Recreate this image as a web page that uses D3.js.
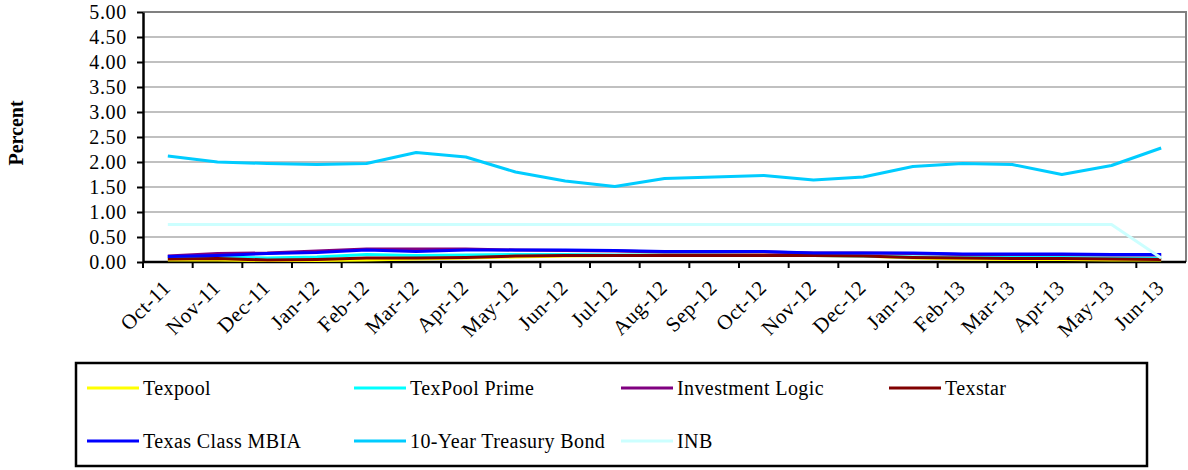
<!DOCTYPE html>
<html>
<head>
<meta charset="utf-8">
<script src="https://cdn.jsdelivr.net/npm/d3@7"></script>
<style>
  body { margin: 0; background: #fff; }
  text { font-family: "Liberation Serif", "Times New Roman", serif; fill: #000; }
</style>
</head>
<body>
<div id="chart"></div>
<script>
// data
var months = ["Oct-11", "Nov-11", "Dec-11", "Jan-12", "Feb-12", "Mar-12", "Apr-12", "May-12", "Jun-12", "Jul-12",
  "Aug-12", "Sep-12", "Oct-12", "Nov-12", "Dec-12", "Jan-13", "Feb-13", "Mar-13", "Apr-13", "May-13", "Jun-13"];
var yTicks = [0, 0.5, 1, 1.5, 2, 2.5, 3, 3.5, 4, 4.5, 5];

var texpool = [0.04, 0.04, 0.03, 0.03, 0.04, 0.06, 0.08, 0.10, 0.12, 0.13, 0.14, 0.14, 0.14, 0.13, 0.12, 0.08, 0.06, 0.05, 0.05, 0.04, 0.04];
var texpoolPrime = [0.10, 0.10, 0.08, 0.10, 0.15, 0.13, 0.14, 0.15, 0.15, 0.14, 0.14, 0.14, 0.13, 0.13, 0.12, 0.10, 0.10, 0.09, 0.09, 0.08, 0.08];
var investmentLogic = [0.12, 0.17, 0.18, 0.22, 0.26, 0.26, 0.26, 0.24, 0.23, 0.22, 0.20, 0.20, 0.20, 0.18, 0.18, 0.17, 0.15, 0.15, 0.15, 0.14, 0.14];
var texstar = [0.06, 0.07, 0.04, 0.05, 0.08, 0.08, 0.09, 0.12, 0.13, 0.13, 0.13, 0.13, 0.13, 0.13, 0.12, 0.09, 0.08, 0.07, 0.07, 0.06, 0.05];
var texasClass = [0.11, 0.13, 0.17, 0.19, 0.24, 0.21, 0.24, 0.24, 0.24, 0.23, 0.21, 0.21, 0.21, 0.18, 0.18, 0.18, 0.16, 0.16, 0.16, 0.15, 0.15];
var treasury = [2.12, 2.00, 1.97, 1.95, 1.97, 2.19, 2.10, 1.80, 1.62, 1.51, 1.67, 1.70, 1.73, 1.64, 1.70, 1.91, 1.97, 1.95, 1.75, 1.93, 2.28];
var inb = [0.75, 0.75, 0.75, 0.75, 0.75, 0.75, 0.75, 0.75, 0.75, 0.75, 0.75, 0.75, 0.75, 0.75, 0.75, 0.75, 0.75, 0.75, 0.75, 0.75, 0.08];

var series = [
  { name: "Texpool", values: texpool, color: "#FFFF00" },
  { name: "TexPool Prime", values: texpoolPrime, color: "#00FFFF" },
  { name: "Investment Logic", values: investmentLogic, color: "#800080" },
  { name: "Texstar", values: texstar, color: "#800000" },
  { name: "Texas Class MBIA", values: texasClass, color: "#0000FF" },
  { name: "10-Year Treasury Bond", values: treasury, color: "#00CCFF" },
  { name: "INB", values: inb, color: "#CCFFFF" }
];

var W = 1188, H = 470;
var margin = { top: 12, right: 2, bottom: 208, left: 143 },
  width = W - margin.left - margin.right,
  height = H - margin.top - margin.bottom;

var root = d3.select("#chart").append("svg")
  .attr("width", W)
  .attr("height", H);

var svg = root.append("g")
  .attr("transform", "translate(" + margin.left + "," + margin.top + ")");

var x = d3.scaleBand().domain(months).range([0, width]);
var y = d3.scaleLinear().domain([0, 5]).range([height, 0]);

// gridlines
svg.append("g")
  .selectAll("line")
  .data(yTicks.slice(1, -1))
  .enter()
  .append("line")
  .attr("x1", 0).attr("x2", width)
  .attr("y1", (d) => y(d)).attr("y2", (d) => y(d))
  .attr("stroke", "#C0C0C0")
  .attr("stroke-width", 2);

// plot border (top and right)
svg.append("path")
  .attr("d", "M0," + y(5) + "H" + width + "V" + height)
  .attr("fill", "none")
  .attr("stroke", "#808080")
  .attr("stroke-width", 2);

// Y axis
var yAxis = svg.append("g")
  .call(d3.axisLeft(y).tickValues(yTicks).tickFormat(d3.format(".2f")).tickSize(6).tickSizeOuter(0));
yAxis.select(".domain").attr("stroke", "#000").attr("stroke-width", 2.5);
yAxis.selectAll(".tick line").attr("stroke", "#000").attr("stroke-width", 2);
yAxis.selectAll(".tick text")
  .attr("x", -16)
  .style("font-size", "20px")
  .style("letter-spacing", "0.7px")
  .style("font-family", "'Liberation Serif', serif");

// X axis, ticks at category boundaries
var xAxis = svg.append("g")
  .attr("transform", "translate(0," + height + ")");
xAxis.append("line")
  .attr("x1", 0).attr("x2", width)
  .attr("stroke", "#000").attr("stroke-width", 2.5);
xAxis.selectAll(".bt")
  .data(months)
  .enter()
  .append("line")
  .attr("x1", (d) => x(d)).attr("x2", (d) => x(d))
  .attr("y1", 0).attr("y2", 6)
  .attr("stroke", "#000").attr("stroke-width", 2);
xAxis.selectAll(".lbl")
  .data(months)
  .enter()
  .append("text")
  .attr("text-anchor", "end")
  .attr("transform", (d) => "translate(" + (x(d) + x.bandwidth() / 2 + 4) + ",27) rotate(-45)")
  .style("font-size", "21px")
  .style("letter-spacing", "0.5px")
  .text((d) => d);

// Y label
root.append("text")
  .attr("transform", "translate(23," + (margin.top + height / 2 - 4) + ") rotate(-90)")
  .attr("text-anchor", "middle")
  .style("font-size", "20px")
  .style("font-weight", "bold")
  .text("Percent");

// lines
var line = d3.line()
  .x((d, i) => x(months[i]) + x.bandwidth() / 2)
  .y((d) => y(d));

svg.selectAll(".series")
  .data(series)
  .enter()
  .append("path")
  .attr("fill", "none")
  .attr("stroke", (d) => d.color)
  .attr("stroke-width", 3)
  .attr("stroke-linejoin", "round")
  .attr("d", (d) => line(d.values));

// legend
var legend = root.append("g");
legend.append("rect")
  .attr("x", 76).attr("y", 363)
  .attr("width", 1071).attr("height", 103)
  .attr("fill", "#fff")
  .attr("stroke", "#000")
  .attr("stroke-width", 2.5);

var legX = [87, 354, 621, 889], legY = [388, 441];
var items = legend.selectAll(".item")
  .data(series)
  .enter()
  .append("g")
  .attr("transform", (d, i) => "translate(" + legX[i % 4] + "," + legY[Math.floor(i / 4)] + ")");
items.append("line")
  .attr("x1", 0).attr("x2", 52)
  .attr("stroke", (d) => d.color)
  .attr("stroke-width", 3);
items.append("text")
  .attr("x", 56)
  .attr("dy", "0.35em")
  .style("font-size", "20px")
  .style("letter-spacing", "0.4px")
  .text((d) => d.name);
</script>
</body>
</html>
